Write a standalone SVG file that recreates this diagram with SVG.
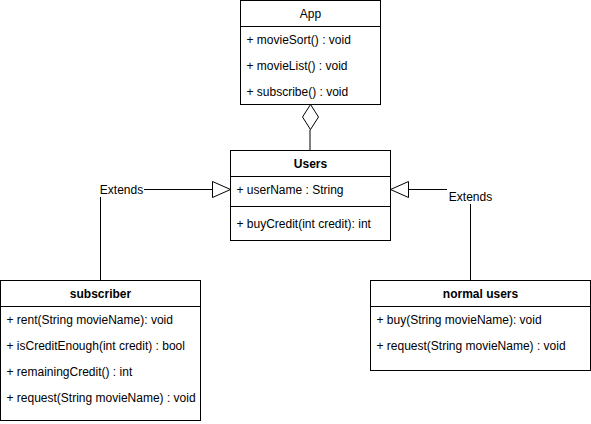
<svg xmlns="http://www.w3.org/2000/svg" width="591" height="424" viewBox="0 0 591 424">
<style>
.box{fill:#fff;stroke:#000;stroke-width:1}
.sep{stroke:#000;stroke-width:1;fill:none}
.t{font-family:"Liberation Sans",Arial,Helvetica,sans-serif;font-size:12px;fill:#000}
.h{text-anchor:middle}
.b{font-weight:bold}
.edge{fill:none;stroke:#000;stroke-width:1}
.tri{fill:#fff;stroke:#000;stroke-width:1}
</style>
<rect width="591" height="424" fill="#fff"/>
<g transform="translate(0.5,0.5)">
<g id="connectors">
<path class="edge" d="M309.5 129 V150"/>
<path class="tri" d="M310 104 L318 116.5 L310 129 L302 116.5 Z"/>
<path class="edge" d="M100 280 V189 H212"/>
<path class="tri" d="M212 181 L230 189 L212 197 Z"/>
<rect x="98.5" y="181.5" width="45" height="15" fill="#fff"/>
<text class="t h" x="121" y="193">Extends</text>
<path class="edge" d="M470 280 V189 H408"/>
<path class="tri" d="M408 181 L390 189 L408 197 Z"/>
<rect x="446.5" y="188.5" width="47" height="15" fill="#fff"/>
<text class="t h" x="470" y="200">Extends</text>
</g>
<g id="App">
<rect class="box" x="240" y="0" width="140" height="104"/>
<path class="sep" d="M240 26 H380"/>
<text class="t h" x="310" y="17">App</text>
<text class="t" x="246" y="43">+ movieSort() : void</text>
<text class="t" x="246" y="69">+ movieList() : void</text>
<text class="t" x="246" y="95">+ subscribe() : void</text>
</g>
<g id="Users">
<rect class="box" x="230" y="150" width="160" height="90"/>
<path class="sep" d="M230 176 H390"/>
<path class="sep" d="M230 206 H390"/>
<text class="t h b" x="310" y="167">Users</text>
<text class="t" x="236" y="193">+ userName : String</text>
<text class="t" x="236" y="227">+ buyCredit(int credit): int</text>
</g>
<g id="subscriber">
<rect class="box" x="0" y="280" width="200" height="140"/>
<path class="sep" d="M0 306 H200"/>
<text class="t h b" x="100" y="297">subscriber</text>
<text class="t" x="6" y="323">+ rent(String movieName): void</text>
<text class="t" x="6" y="349">+ isCreditEnough(int credit) : bool</text>
<text class="t" x="6" y="375">+ remainingCredit() : int</text>
<text class="t" x="6" y="401">+ request(String movieName) : void</text>
</g>
<g id="normal-users">
<rect class="box" x="370" y="280" width="220" height="90"/>
<path class="sep" d="M370 306 H590"/>
<text class="t h b" x="480" y="297">normal users</text>
<text class="t" x="376" y="323">+ buy(String movieName): void</text>
<text class="t" x="376" y="349">+ request(String movieName) : void</text>
</g>
</g>
</svg>
